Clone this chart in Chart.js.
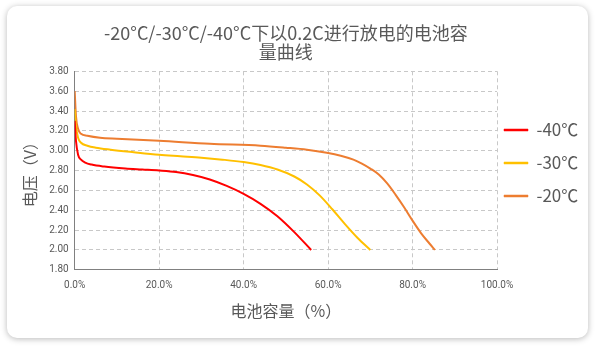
<!DOCTYPE html>
<html>
<head>
<meta charset="utf-8">
<script src="https://cdn.jsdelivr.net/npm/chart.js@4.4.1/dist/chart.umd.min.js"></script>
<style>
  html, body { margin: 0; padding: 0; background: #ffffff; }
  #card {
    position: absolute; left: 7px; top: 6px; width: 581px; height: 332px;
    background: #ffffff; border-radius: 10px;
    box-shadow: 0 1px 6px rgba(0,0,0,0.28);
    overflow: hidden;
  }
  #card canvas { display: block; }
</style>
</head>
<body>
<div id="card"><canvas id="c"></canvas></div>
<script>
// ---- data ----
const titleLines = ["-20°C/-30°C/-40°C下以0.2C进行放电的电池容", "量曲线"];
const xTitle = "电池容量（%）";
const yTitle = "电压（V）";
const seriesNames = ["-40℃", "-30℃", "-20℃"];
const seriesColors = ["#ff0000", "#ffc000", "#ed7d31"];

const capM40 = [0, 0.3, 0.8, 1.5, 2.5, 4, 7, 12, 16, 20, 24, 28, 32, 36, 40, 44, 48, 52, 56];
const voltM40 = [3.30, 3.10, 2.96, 2.91, 2.88, 2.86, 2.84, 2.82, 2.81, 2.80, 2.785, 2.755, 2.71, 2.645, 2.565, 2.465, 2.34, 2.18, 2.00];

const capM30 = [0, 0.3, 0.8, 1.5, 3, 5, 8.5, 14, 20, 25, 30, 35, 40, 44, 48, 52, 55, 58, 61, 64, 67, 70];
const voltM30 = [3.42, 3.25, 3.13, 3.08, 3.05, 3.03, 3.01, 2.985, 2.96, 2.945, 2.93, 2.91, 2.885, 2.855, 2.81, 2.74, 2.66, 2.55, 2.41, 2.26, 2.12, 2.00];

const capM20 = [0, 0.3, 0.8, 1.5, 3, 6, 10, 20, 32, 44, 50, 55, 59.7, 63, 66, 68, 70, 72, 74, 76, 78, 80, 82, 84, 85.3];
const voltM20 = [3.60, 3.35, 3.22, 3.17, 3.15, 3.13, 3.12, 3.10, 3.07, 3.05, 3.03, 3.01, 2.98, 2.95, 2.91, 2.87, 2.82, 2.76, 2.67, 2.555, 2.43, 2.295, 2.17, 2.065, 2.00];

const xTicks = [0, 20, 40, 60, 80, 100];
const yTicks = [1.8, 2.0, 2.2, 2.4, 2.6, 2.8, 3.0, 3.2, 3.4, 3.6, 3.8];

// ---- build ----
const caps = [capM40, capM30, capM20];
const volts = [voltM40, voltM30, voltM20];
const datasets = seriesNames.map((name, i) => ({
  label: name,
  data: caps[i].map((x, j) => ({ x: x, y: volts[i][j] })),
  borderColor: seriesColors[i],
  backgroundColor: seriesColors[i],
  borderWidth: 2,
  pointRadius: 0,
  cubicInterpolationMode: 'monotone',
  fill: false
}));

const textColor = '#595959';
const cjk = '"Noto Sans CJK SC", "Noto Sans", sans-serif';

const legendShift = {
  id: 'legendShift',
  afterLayout(chart) {
    if (chart.legend) chart.legend.left -= 9;
  }
};

new Chart(document.getElementById('c'), {
  type: 'line',
  data: { datasets },
  plugins: [legendShift],
  options: {
    responsive: true,
    maintainAspectRatio: false,
    animation: false,
    layout: { padding: { left: 0, right: 0, top: 0, bottom: 0 } },
    plugins: {
      title: {
        display: true,
        text: titleLines,
        fullSize: false,
        color: textColor,
        font: { family: cjk, size: 18, weight: 'normal', lineHeight: 1.05 },
        padding: { top: 17.5, bottom: 10 }
      },
      legend: {
        position: 'right',
        align: 'start',
        maxWidth: 91,
        title: { display: true, text: ' ', font: { size: 1, lineHeight: 1 }, padding: { top: 98.5, bottom: 0 } },
        labels: {
          color: textColor,
          font: { family: cjk, size: 17 },
          boxWidth: 24,
          boxHeight: 2,
          padding: 16,
          generateLabels(chart) {
            const items = Chart.defaults.plugins.legend.labels.generateLabels(chart);
            items.forEach(it => { it.lineWidth = 0.5; });
            return items;
          }
        }
      },
      tooltip: { enabled: false }
    },
    scales: {
      x: {
        type: 'linear',
        min: 0, max: 100,
        afterBuildTicks(scale) { scale.ticks = xTicks.map(v => ({ value: v })); },
        ticks: {
          color: textColor,
          font: { family: 'Roboto, sans-serif', size: 10 },
          padding: 10,
          maxRotation: 0,
          callback: v => Number(v).toFixed(1) + '%'
        },
        grid: { color: '#c8c8c8', drawTicks: false, lineWidth: 1 },
        border: { display: true, color: '#808080', width: 1, dash: [4, 3] },
        title: {
          display: true, text: xTitle, color: textColor,
          font: { family: cjk, size: 16 },
          padding: { top: 0, bottom: 17 }
        }
      },
      y: {
        type: 'linear',
        min: 1.8, max: 3.8,
        afterBuildTicks(scale) { scale.ticks = yTicks.map(v => ({ value: v })); },
        ticks: {
          color: textColor,
          font: { family: 'Roboto, sans-serif', size: 10 },
          padding: 6,
          callback: v => Number(v).toFixed(2)
        },
        grid: { color: '#c8c8c8', drawTicks: false, lineWidth: 1 },
        border: { display: true, color: '#808080', width: 1, dash: [4, 3] },
        title: {
          display: true, text: yTitle, color: textColor,
          font: { family: cjk, size: 16 },
          padding: { top: 13, bottom: 4 }
        }
      }
    }
  }
});
</script>
</body>
</html>
